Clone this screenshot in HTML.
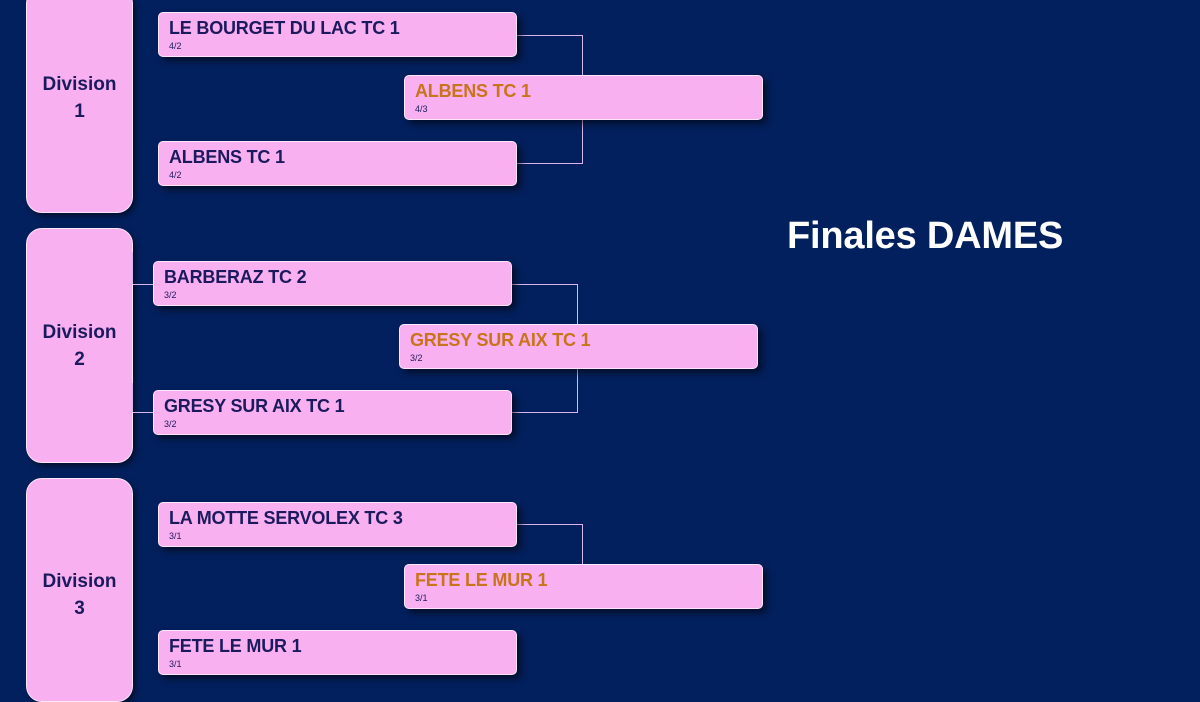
<!DOCTYPE html>
<html><head><style>
html,body{margin:0;width:1200px;height:689px;}
body{background:#03205e;position:relative;overflow:hidden;font-family:"Liberation Sans",sans-serif;}
.div{position:absolute;left:26px;width:107px;background:#f9b0f0;border-radius:16px;box-shadow:3px 3px 6px rgba(0,0,0,.5);color:#1b1a5c;font-weight:bold;font-size:19px;text-align:center;line-height:27px;display:flex;align-items:center;justify-content:center;border:1px solid #fde6fa;box-sizing:border-box;}
.b{position:absolute;width:359px;height:45px;background:#f9b0f0;border-radius:5px;box-shadow:4px 4px 7px rgba(0,0,0,.55);box-sizing:border-box;border:1px solid #fde6fa;padding-left:10px;color:#1b1a5c;}
.b .n{font-weight:bold;font-size:18px;line-height:18px;margin-top:6px;letter-spacing:-0.2px;}
.b .s{font-size:9px;line-height:9px;margin-top:5px;}
.w .n{color:#c8741a;}
.l{position:absolute;background:#d8b8e8;}
h1{position:absolute;left:787px;top:215px;margin:0;color:#fff;font-size:38px;font-weight:bold;letter-spacing:-0.2px;}
</style></head><body>
<div class="div" style="top:-12px;height:225px;padding-bottom:6px">Division<br>1</div>
<div class="div" style="top:228px;height:235px">Division<br>2</div>
<div class="div" style="top:478px;height:224px;padding-top:10px">Division<br>3</div>

<div class="l" style="left:517px;top:35px;width:66px;height:1px"></div>
<div class="l" style="left:582px;top:35px;width:1px;height:129px"></div>
<div class="l" style="left:517px;top:163px;width:66px;height:1px"></div>

<div class="l" style="left:511px;top:284px;width:67px;height:1px"></div>
<div class="l" style="left:577px;top:284px;width:1px;height:129px"></div>
<div class="l" style="left:511px;top:412px;width:67px;height:1px"></div>
<div class="l" style="left:133px;top:284px;width:20px;height:1px"></div>
<div class="l" style="left:133px;top:412px;width:20px;height:1px"></div>
<div class="l" style="left:132px;top:252px;width:1px;height:32px"></div>
<div class="l" style="left:132px;top:383px;width:1px;height:29px"></div>

<div class="l" style="left:517px;top:524px;width:66px;height:1px"></div>
<div class="l" style="left:582px;top:524px;width:1px;height:41px"></div>

<div class="b" style="left:158px;top:12px"><div class="n">LE BOURGET DU LAC TC 1</div><div class="s">4/2</div></div>
<div class="b w" style="left:404px;top:75px"><div class="n">ALBENS TC 1</div><div class="s">4/3</div></div>
<div class="b" style="left:158px;top:141px"><div class="n">ALBENS TC 1</div><div class="s">4/2</div></div>

<div class="b" style="left:153px;top:261px"><div class="n">BARBERAZ TC 2</div><div class="s">3/2</div></div>
<div class="b w" style="left:399px;top:324px"><div class="n">GRESY SUR AIX TC 1</div><div class="s">3/2</div></div>
<div class="b" style="left:153px;top:390px"><div class="n">GRESY SUR AIX TC 1</div><div class="s">3/2</div></div>

<div class="b" style="left:158px;top:502px"><div class="n">LA MOTTE SERVOLEX TC 3</div><div class="s">3/1</div></div>
<div class="b w" style="left:404px;top:564px"><div class="n">FETE LE MUR 1</div><div class="s">3/1</div></div>
<div class="b" style="left:158px;top:630px"><div class="n">FETE LE MUR 1</div><div class="s">3/1</div></div>

<h1>Finales DAMES</h1>
</body></html>
